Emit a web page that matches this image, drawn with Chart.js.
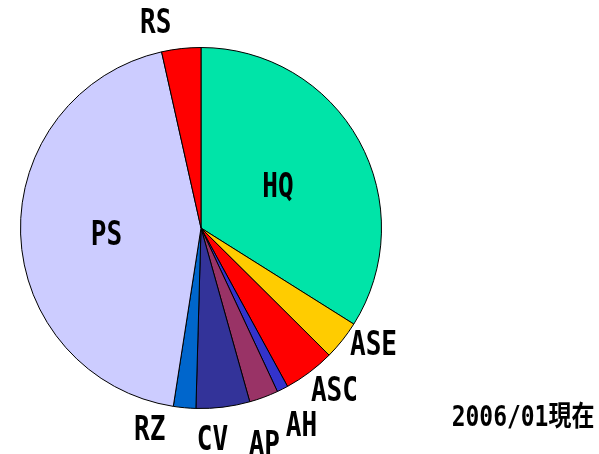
<!DOCTYPE html>
<html>
<head>
<meta charset="utf-8">
<script src="https://cdn.jsdelivr.net/npm/chart.js@4.4.0/dist/chart.umd.min.js"></script>
<style>
  html, body { margin: 0; padding: 0; background: #fff; }
  canvas { display: block; }
</style>
</head>
<body>
<canvas id="pie" width="599" height="454"></canvas>
<script>
// slices, clockwise from 12 o'clock (share in %)
const categories = ['HQ', 'ASE', 'ASC', 'AH', 'AP', 'CV', 'RZ', 'PS', 'RS'];
const shares = [33.9, 3.5, 4.6, 1.0, 2.6, 4.8, 2.0, 44.0, 3.5];
const stampText = '2006/01現在';

const sliceColors = ['#00E4A8', '#FFCC00', '#FF0000', '#3333CC', '#993366',
                     '#333399', '#0066CC', '#CCCCFF', '#FF0000'];

// where each label sits: radius as a fraction of the pie radius, plus a small angle nudge (deg)
const labelRadius = [0.49, 1.147, 1.159, 1.221, 1.239, 1.164, 1.142, 0.524, 1.176];
const labelNudge = [-0.5, -4.9, -2.7, -0.3, 3.9, 3.9, 9.2, -1.3, -6.0];

const LABEL_FONT = 'bold 33px "DejaVu Sans Mono", monospace';
const LABEL_SQUEEZE = 0.79;

const sliceLabels = {
    id: 'sliceLabels',
    afterDraw(chart) {
        const ctx = chart.ctx;
        const meta = chart.getDatasetMeta(0);
        ctx.save();
        ctx.fillStyle = '#000';
        ctx.textAlign = 'center';
        ctx.textBaseline = 'alphabetic';
        ctx.font = LABEL_FONT;
        const capH = 33 * 0.729;

        meta.data.forEach((arc, i) => {
            const p = arc.getProps(['x', 'y', 'startAngle', 'endAngle', 'outerRadius'], true);
            const mid = (p.startAngle + p.endAngle) / 2 + labelNudge[i] * Math.PI / 180;
            const r = p.outerRadius * labelRadius[i];
            const lx = p.x + Math.cos(mid) * r;
            const ly = p.y + Math.sin(mid) * r;
            ctx.save();
            ctx.translate(lx, ly);
            ctx.scale(LABEL_SQUEEZE, 1);
            ctx.fillText(categories[i], 0, capH / 2);
            ctx.restore();
        });

        // date stamp, bottom right
        ctx.font = 'bold 28px "DejaVu Sans Mono", "Noto Sans CJK JP", monospace';
        ctx.translate(523, 416);
        ctx.scale(0.82, 1);
        ctx.fillText(stampText, 0, 28 * 0.729 / 2);
        ctx.restore();
    }
};

new Chart(document.getElementById('pie'), {
    type: 'pie',
    data: {
        labels: categories,
        datasets: [{
            data: shares,
            backgroundColor: sliceColors,
            borderColor: '#000',
            borderWidth: 1
        }]
    },
    options: {
        responsive: false,
        animation: false,
        layout: {
            padding: { left: 20, right: 217, top: 47, bottom: 45 }
        },
        plugins: {
            legend: { display: false },
            tooltip: { enabled: false }
        }
    },
    plugins: [sliceLabels]
});
</script>
</body>
</html>
